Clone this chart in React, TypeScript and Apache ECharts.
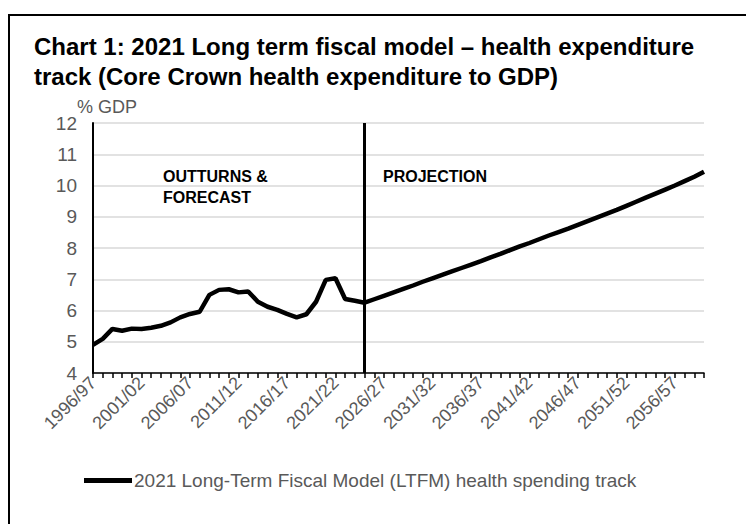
import React, { useEffect, useRef } from "react";
import * as echarts from "echarts";

const years: string[] = [
  "1996/97","1997/98","1998/99","1999/00","2000/01","2001/02","2002/03","2003/04","2004/05","2005/06",
  "2006/07","2007/08","2008/09","2009/10","2010/11","2011/12","2012/13","2013/14","2014/15","2015/16",
  "2016/17","2017/18","2018/19","2019/20","2020/21","2021/22","2022/23","2023/24","2024/25","2025/26",
  "2026/27","2027/28","2028/29","2029/30","2030/31","2031/32","2032/33","2033/34","2034/35","2035/36",
  "2036/37","2037/38","2038/39","2039/40","2040/41","2041/42","2042/43","2043/44","2044/45","2045/46",
  "2046/47","2047/48","2048/49","2049/50","2050/51","2051/52","2052/53","2053/54","2054/55","2055/56",
  "2056/57","2057/58","2058/59","2059/60",
];

// Outturns & forecast (1996/97 - 2024/25)
const historical: number[] = [
  4.9, 5.09, 5.41, 5.35, 5.42, 5.41, 5.45, 5.51, 5.62, 5.78,
  5.89, 5.96, 6.5, 6.66, 6.68, 6.58, 6.61, 6.28, 6.12, 6.02,
  5.89, 5.78, 5.88, 6.28, 6.98, 7.03, 6.37, 6.31, 6.25,
];

// Projection (2025/26 - 2059/60)
const projection: number[] = [
  6.36, 6.47, 6.58, 6.69, 6.8, 6.92, 7.03, 7.14, 7.25, 7.36,
  7.47, 7.58, 7.7, 7.81, 7.93, 8.05, 8.16, 8.28, 8.4, 8.51,
  8.62, 8.74, 8.86, 8.98, 9.1, 9.22, 9.35, 9.48, 9.61, 9.74,
  9.87, 10.0, 10.14, 10.28, 10.44,
];

const seriesName = "2021 Long-Term Fiscal Model (LTFM) health spending track";
const titleLines = [
  "Chart 1: 2021 Long term fiscal model – health expenditure",
  "track (Core Crown health expenditure to GDP)",
];
const dividerYear = "2024/25";

const FONT = "'Liberation Sans', Arial, sans-serif";

export default function App() {
  const ref = useRef<HTMLDivElement>(null);
  useEffect(() => {
    document.body.style.margin = "0";
    const chart = echarts.init(ref.current!, null, { renderer: "svg" });
    const values = [...historical, ...projection];
    chart.setOption({
      animation: false,
      backgroundColor: "#ffffff",
      textStyle: { fontFamily: FONT },
      title: {
        text: titleLines.join("\n"),
        left: 29,
        top: 26,
        textStyle: { fontFamily: FONT, fontSize: 24, fontWeight: "bold", color: "#000", lineHeight: 30 },
      },
      grid: { left: 93, right: 42, top: 123, bottom: 151, containLabel: false },
      legend: {
        left: 79,
        top: 466,
        icon: "rect",
        itemWidth: 48,
        itemHeight: 5,
        itemGap: 10,
        textStyle: { fontFamily: FONT, fontSize: 19, color: "#595959", padding: [0, 0, 0, -3] },
        data: [seriesName],
      },
      xAxis: {
        type: "category",
        data: years,
        boundaryGap: false,
        axisLine: { lineStyle: { color: "#000", width: 1.5 } },
        axisTick: { show: true, interval: 0, length: 5, lineStyle: { color: "#000", width: 1.5 } },
        axisLabel: {
          interval: 4,
          rotate: 45,
          fontFamily: FONT,
          fontSize: 18,
          color: "#595959",
          margin: 7,
        },
        splitLine: { show: false },
      },
      yAxis: {
        type: "value",
        min: 4,
        max: 12,
        interval: 1,
        axisLine: { show: true, lineStyle: { color: "#000", width: 2 } },
        axisTick: { show: false },
        axisLabel: { fontFamily: FONT, fontSize: 19, color: "#595959", margin: 16 },
        splitLine: { lineStyle: { color: "#d9d9d9", width: 1.5 } },
      },
      graphic: [
        {
          type: "rect",
          shape: { x: 9, y: 15, width: 760, height: 540 },
          style: { fill: "none", stroke: "#000", lineWidth: 2 },
          silent: true,
          z: 100,
        },
        {
          type: "text",
          left: 77,
          top: 98,
          style: { text: "% GDP", fontFamily: FONT, fontSize: 18, fill: "#595959" },
        },
        {
          type: "text",
          left: 163,
          top: 166,
          style: {
            text: "OUTTURNS &\nFORECAST",
            fontFamily: FONT,
            fontSize: 16,
            fontWeight: "bold",
            fill: "#000",
            lineHeight: 21,
          },
        },
        {
          type: "text",
          left: 383,
          top: 168,
          style: { text: "PROJECTION", fontFamily: FONT, fontSize: 16, fontWeight: "bold", fill: "#000" },
        },
      ],
      series: [
        {
          name: seriesName,
          type: "line",
          data: values,
          showSymbol: false,
          symbol: "none",
          lineStyle: { color: "#000", width: 4.5 },
          itemStyle: { color: "#000" },
          markLine: {
            silent: true,
            symbol: "none",
            label: { show: false },
            lineStyle: { color: "#000", width: 3, type: "solid" },
            data: [{ xAxis: dividerYear }],
          },
          z: 3,
        },
      ],
    });
    return () => chart.dispose();
  }, []);
  return (
    <div
      ref={ref}
      style={{ position: "absolute", left: 0, top: 0, width: 746, height: 524, background: "#fff" }}
    />
  );
}
